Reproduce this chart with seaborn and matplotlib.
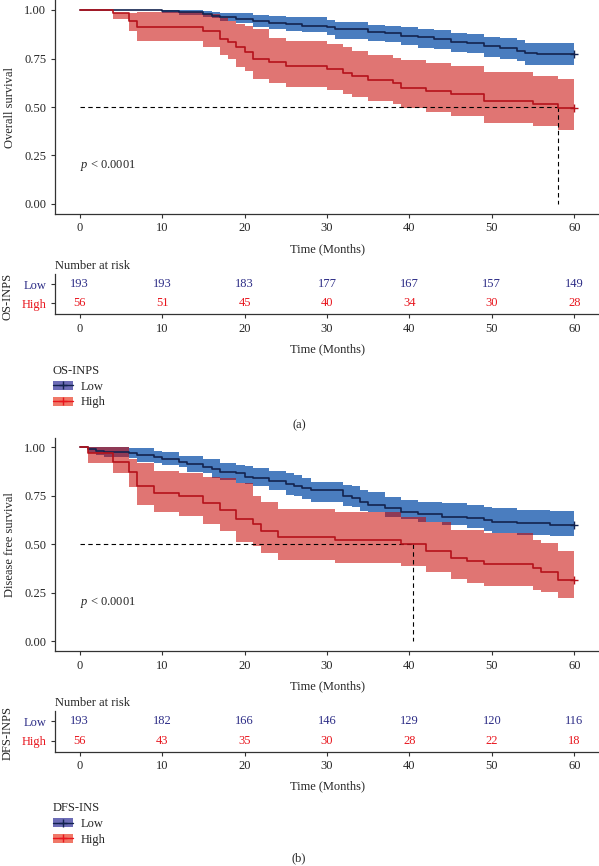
import numpy as np
import pandas as pd
import matplotlib
matplotlib.use("Agg")
import matplotlib.pyplot as plt
import seaborn as sns
from matplotlib.patches import Patch
from matplotlib.lines import Line2D

# ---------------- data ----------------
follow_end = 60
risk_times = [0, 10, 20, 30, 40, 50, 60]
groups = ["Low", "High"]

# Overall survival (OS-INPS)
os_low_time = [0, 10, 12, 15, 16, 17, 19, 21, 23, 25, 27, 30, 31, 35, 37, 39, 41, 43, 45, 47, 49, 51, 53, 54, 55.5]
os_low_surv = [1.0, 0.995, 0.989, 0.979, 0.970, 0.962, 0.954, 0.945, 0.935, 0.928, 0.919, 0.914, 0.900, 0.888,
               0.880, 0.868, 0.859, 0.849, 0.837, 0.828, 0.814, 0.802, 0.790, 0.777, 0.773]
os_low_lower = [1.0, 0.985, 0.974, 0.962, 0.957, 0.945, 0.935, 0.914, 0.900, 0.890, 0.888, 0.870, 0.850, 0.842,
                0.835, 0.820, 0.805, 0.797, 0.785, 0.777, 0.760, 0.745, 0.735, 0.718, 0.716]
os_low_upper = [1.0, 1.0, 1.0, 0.995, 0.991, 0.985, 0.983, 0.975, 0.969, 0.966, 0.962, 0.950, 0.940, 0.925,
                0.918, 0.912, 0.900, 0.895, 0.880, 0.875, 0.860, 0.854, 0.845, 0.830, 0.828]

os_high_time = [0, 4, 6, 7, 15, 17, 18, 19, 20, 21, 23, 25, 30, 32, 33, 35, 38, 39, 42, 45, 49, 55, 58]
os_high_surv = [1.0, 0.983, 0.945, 0.911, 0.893, 0.850, 0.833, 0.808, 0.782, 0.746, 0.732, 0.713, 0.694, 0.677,
                0.660, 0.639, 0.622, 0.600, 0.584, 0.565, 0.532, 0.514, 0.493]
os_high_lower = [1.0, 0.953, 0.893, 0.840, 0.810, 0.770, 0.747, 0.705, 0.686, 0.644, 0.622, 0.605, 0.588, 0.565,
                 0.550, 0.531, 0.514, 0.495, 0.473, 0.455, 0.419, 0.400, 0.383]
os_high_upper = [1.0, 0.985, 0.985, 0.990, 0.979, 0.960, 0.945, 0.928, 0.915, 0.902, 0.854, 0.840, 0.823, 0.810,
                 0.790, 0.768, 0.755, 0.742, 0.727, 0.711, 0.680, 0.660, 0.643]
os_median_high = 58
os_risk_low = [193, 193, 183, 177, 167, 157, 149]
os_risk_high = [56, 51, 45, 40, 34, 30, 28]

# Disease free survival (DFS-INPS)
dfs_low_time = [0, 1, 2, 3, 6, 7, 9, 10, 12, 13, 15, 16, 17, 19, 20, 21, 23, 25, 26, 27, 28, 32, 33, 34, 35,
                37, 39, 41, 44, 47, 49, 50, 53, 57]
dfs_low_surv = [1.0, 0.990, 0.983, 0.975, 0.970, 0.960, 0.950, 0.940, 0.926, 0.912, 0.900, 0.887, 0.875, 0.866,
                0.849, 0.840, 0.826, 0.812, 0.800, 0.789, 0.780, 0.750, 0.738, 0.720, 0.705, 0.686, 0.669,
                0.655, 0.643, 0.634, 0.626, 0.617, 0.609, 0.597]
dfs_low_lower = [1.0, 0.969, 0.960, 0.952, 0.944, 0.926, 0.918, 0.910, 0.897, 0.872, 0.866, 0.840, 0.832, 0.815,
                 0.810, 0.798, 0.780, 0.755, 0.750, 0.735, 0.720, 0.695, 0.690, 0.670, 0.664, 0.643, 0.629,
                 0.617, 0.600, 0.585, 0.570, 0.560, 0.549, 0.541]
dfs_low_upper = [1.0, 1.0, 1.0, 1.0, 0.995, 0.995, 0.979, 0.975, 0.957, 0.957, 0.940, 0.940, 0.918, 0.910, 0.905,
                 0.892, 0.880, 0.866, 0.858, 0.840, 0.823, 0.806, 0.800, 0.780, 0.772, 0.746, 0.729, 0.720,
                 0.712, 0.703, 0.691, 0.686, 0.677, 0.674]

dfs_high_time = [0, 1, 4, 6, 7, 9, 12, 15, 17, 19, 21, 22, 24, 31, 39, 42, 45, 47, 49, 55, 56, 58]
dfs_high_surv = [1.0, 0.969, 0.926, 0.874, 0.803, 0.767, 0.750, 0.712, 0.677, 0.630, 0.605, 0.571, 0.537, 0.520,
                 0.502, 0.465, 0.431, 0.414, 0.396, 0.379, 0.356, 0.318]
dfs_high_lower = [1.0, 0.921, 0.870, 0.794, 0.703, 0.666, 0.647, 0.605, 0.570, 0.510, 0.492, 0.455, 0.420, 0.405,
                  0.389, 0.355, 0.321, 0.301, 0.284, 0.267, 0.253, 0.225]
dfs_high_upper = [1.0, 1.0, 1.0, 0.940, 0.917, 0.880, 0.866, 0.845, 0.840, 0.815, 0.750, 0.720, 0.681, 0.667,
                  0.641, 0.615, 0.575, 0.575, 0.558, 0.523, 0.506, 0.465]
dfs_median_high = 40.4
dfs_risk_low = [193, 182, 166, 146, 129, 120, 116]
dfs_risk_high = [56, 43, 35, 30, 28, 22, 18]

# ---------------- style ----------------
sns.set_theme(style="ticks")
plt.rcParams["font.family"] = ["Liberation Serif", "DejaVu Serif"]
plt.rcParams["mathtext.fontset"] = "custom"
plt.rcParams["mathtext.it"] = "Liberation Serif:italic"
plt.rcParams["mathtext.rm"] = "Liberation Serif"

TXT = "#262626"
AX = "#333333"
LOW_LINE = "#13234f"
HIGH_LINE = "#b5121b"
LOW_BAND = "#4a7dbf"
HIGH_BAND = "#c80400"
LOW_TXT = "#2c2c86"
HIGH_TXT = "#e8161e"
FS = 9.0

W, H = 599, 866
fig = plt.figure(figsize=(W / 100, H / 100), dpi=100)


def ax_px(left, top, right, bottom):
    return fig.add_axes([left / W, 1 - bottom / H, (right - left) / W, (bottom - top) / H])


def ftext(x, y, s, **kw):
    kw.setdefault("fontsize", FS)
    kw.setdefault("color", TXT)
    fig.text(x / W, 1 - y / H, s, **kw)


def style_axis(ax):
    sns.despine(ax=ax)
    for sp in ("left", "bottom"):
        ax.spines[sp].set_color(AX)
        ax.spines[sp].set_linewidth(0.9)
    ax.tick_params(length=3, width=0.8, color=AX, labelsize=FS, labelcolor=TXT, pad=3.2)
    ax.set_xlim(-3, 63)
    ax.set_xticks(risk_times)
    ax.set_xlabel("")
    ax.set_ylabel("")
    ax.grid(False)


def draw_band(ax, t, s, lo, hi, band_color, band_alpha):
    tt = list(t) + [follow_end]
    ax.fill_between(tt, list(lo) + [lo[-1]], list(hi) + [hi[-1]], step="post",
                    color=band_color, alpha=band_alpha, lw=0)


def draw_line(ax, t, s, line_color):
    tt = list(t) + [follow_end]
    ss = list(s) + [s[-1]]
    df = pd.DataFrame({"time": tt, "surv": ss})
    sns.lineplot(data=df, x="time", y="surv", ax=ax, color=line_color, lw=1.2,
                 drawstyle="steps-post", estimator=None, sort=False)
    ax.plot([follow_end], [s[-1]], marker="+", color=line_color, ms=6, mew=1.0)


def km_panel(off, ylabel, low, high, median, risk_low, risk_high, tab_label, leg_title, tag, tag_y):
    ax = ax_px(55, 0.3 + off, 599, 213.7 + off)
    draw_band(ax, *low, LOW_BAND, 1.0)
    draw_band(ax, *high, HIGH_BAND, 0.55)
    ax.plot([0, median], [0.5, 0.5], ls=(0, (4, 3)), color="black", lw=0.8)
    ax.plot([median, median], [0.5, 0.0], ls=(0, (4, 3)), color="black", lw=0.8)
    draw_line(ax, *low[:2], LOW_LINE)
    draw_line(ax, *high[:2], HIGH_LINE)
    ax.set_ylim(-0.05, 1.05)
    ax.set_yticks([0, 0.25, 0.5, 0.75, 1.0])
    ax.set_yticklabels(["0.00", "0.25", "0.50", "0.75", "1.00"])
    style_axis(ax)
    ax.text(0, 0.2, r"$\it{p}$ < 0.0001", fontsize=FS, color=TXT, ha="left", va="center")
    ftext(10.5, 107 + off, ylabel, rotation=90, ha="center", va="center")
    ftext(327, 249 + off, "Time (Months)", ha="center", va="center")
    ftext(55, 266 + off, "Number at risk", ha="left", va="center")

    # risk table
    tab = ax_px(55, 274 + off, 599, 314.3 + off)
    rows = pd.DataFrame({"time": risk_times * 2,
                         "n": list(risk_low) + list(risk_high),
                         "row": [2] * len(risk_times) + [1] * len(risk_times),
                         "grp": ["Low"] * len(risk_times) + ["High"] * len(risk_times)})
    for _, r in rows.iterrows():
        tab.text(r["time"], r["row"], str(r["n"]), ha="center", va="center", fontsize=FS,
                 color=LOW_TXT if r["grp"] == "Low" else HIGH_TXT)
    tab.set_ylim(0.43, 2.52)
    tab.set_yticks([1, 2])
    tab.set_yticklabels(["High", "Low"])
    style_axis(tab)
    for lab, c in zip(tab.get_yticklabels(), [HIGH_TXT, LOW_TXT]):
        lab.set_color(c)
    ftext(327, 349 + off, "Time (Months)", ha="center", va="center")
    ftext(7.5, 296 + off, tab_label, rotation=90, ha="center", va="center")

    # legend
    handles = [(Patch(facecolor="#6c6cb6", edgecolor="none"),
                Line2D([], [], color=LOW_LINE, lw=1.0, marker="+", ms=6)),
               (Patch(facecolor="#f07868", edgecolor="none"),
                Line2D([], [], color=HIGH_TXT, lw=1.0, marker="+", ms=6))]
    leg = fig.legend(handles=handles, labels=groups, title=leg_title, loc="upper left",
                     bbox_to_anchor=(53 / W, 1 - (365 + off) / H), frameon=False,
                     handlelength=1.6, handleheight=0.75, handletextpad=0.65, labelspacing=0.3,
                     borderpad=0, borderaxespad=0, fontsize=FS, title_fontsize=FS, alignment="left")
    for tx in leg.get_texts():
        tx.set_color(TXT)
    leg.get_title().set_color(TXT)
    ftext(299, tag_y, tag, ha="center", va="center")


km_panel(0, "Overall survival",
         (os_low_time, os_low_surv, os_low_lower, os_low_upper),
         (os_high_time, os_high_surv, os_high_lower, os_high_upper),
         os_median_high, os_risk_low, os_risk_high, "OS-INPS", "OS-INPS", "(a)", 425)

km_panel(437.3, "Disease free survival",
         (dfs_low_time, dfs_low_surv, dfs_low_lower, dfs_low_upper),
         (dfs_high_time, dfs_high_surv, dfs_high_lower, dfs_high_upper),
         dfs_median_high, dfs_risk_low, dfs_risk_high, "DFS-INPS", "DFS-INS", "(b)", 858)

fig.savefig("out.png", dpi=100)
